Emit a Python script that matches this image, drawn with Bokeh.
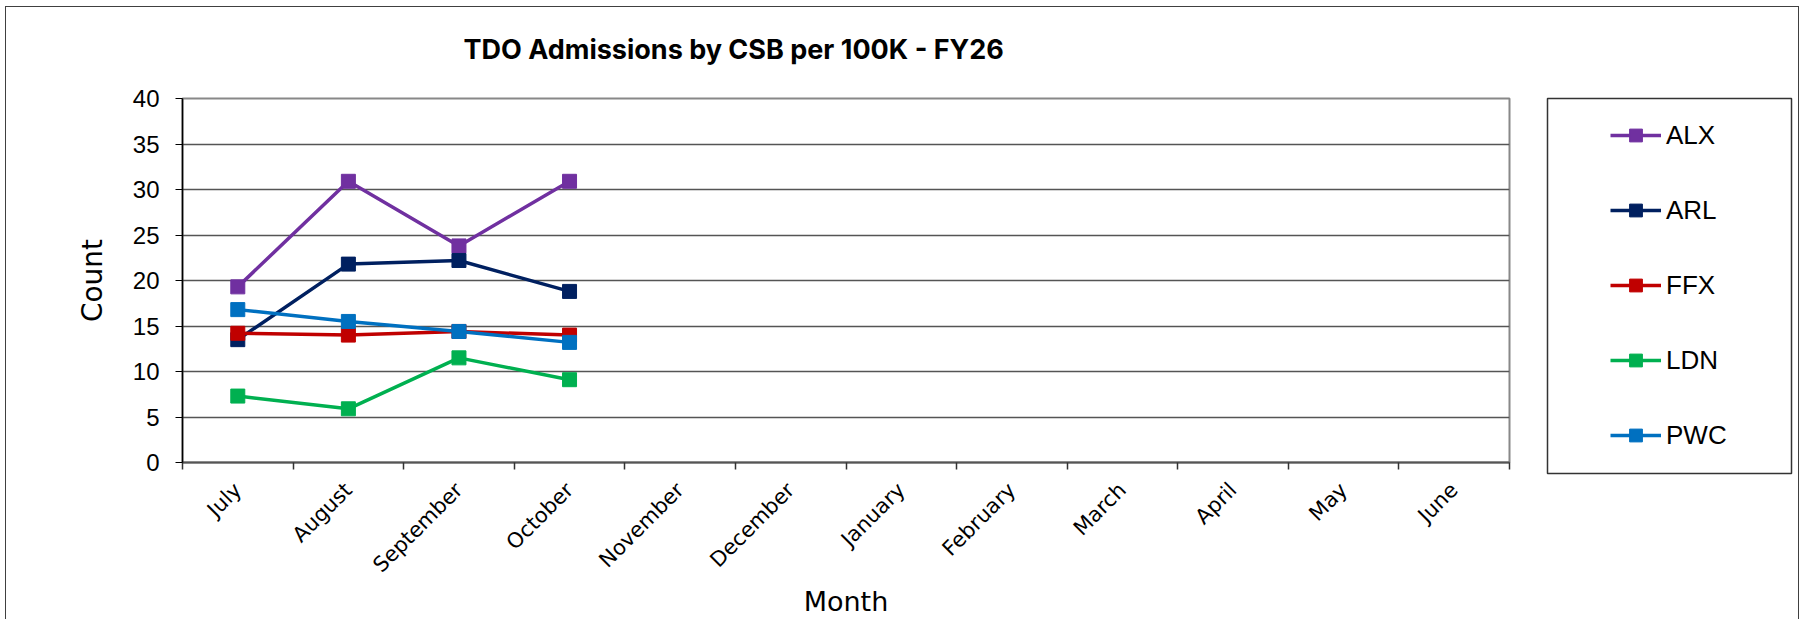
import math
from bokeh.plotting import figure
from bokeh.layouts import row
from bokeh.models import FixedTicker, Legend, LegendItem, Range1d, Title
from bokeh.embed import file_html
from bokeh.resources import INLINE

# ---- data ----
months = ["July", "August", "September", "October", "November", "December",
          "January", "February", "March", "April", "May", "June"]
series_names = ["ALX", "ARL", "FFX", "LDN", "PWC"]
alx = [19.3, 30.9, 23.8, 30.9]
arl = [13.5, 21.8, 22.2, 18.8]
ffx = [14.2, 14.0, 14.4, 14.0]
ldn = [7.3, 5.9, 11.5, 9.1]
pwc = [16.8, 15.5, 14.4, 13.2]
y_ticks = [0, 5, 10, 15, 20, 25, 30, 35, 40]
colors = ["#7030A0", "#002060", "#C00000", "#00B050", "#0070C0"]
title_text = "TDO Admissions by CSB per 100K - FY26"

series = [alx, arl, ffx, ldn, pwc]

H = 612
WM = 1524
WL = 268

p = figure(width=WM, height=H, output_backend="svg", toolbar_location=None,
           x_range=Range1d(0, len(months)), y_range=Range1d(0, 40),
           min_border_left=176, min_border_right=WM - 1503,
           min_border_top=91, min_border_bottom=H - 455)
p.title.text = ""

# spacer title (closest to the frame) then the real title above it
p.add_layout(Title(text=" ", text_font_size="10px", standoff=20), "above")
p.add_layout(Title(text=title_text, text_font="Inter", text_font_size="27px",
                   text_font_style="bold", text_color="#000000",
                   align="left", offset=281, standoff=0), "above")

centers = [i + 0.5 for i in range(len(months))]
bounds = [i for i in range(len(months) + 1)]

for name, vals, col in zip(series_names, series, colors):
    xs = centers[:len(vals)]
    p.line(xs, vals, line_color=col, line_width=3.5)
    p.scatter(xs, vals, marker="square", size=14, fill_color=col, line_color=col)

# x axis
xa = p.xaxis[0]
xa.ticker = FixedTicker(ticks=centers, minor_ticks=bounds)
xa.major_label_overrides = {c: m for c, m in zip(centers, months)}
xa.major_tick_line_color = None
xa.minor_tick_in = 0
xa.minor_tick_out = 7
xa.minor_tick_line_color = "#333333"
xa.minor_tick_line_width = 1.5
xa.axis_line_color = "#555555"
xa.axis_line_width = 2
xa.major_label_orientation = math.pi / 4
xa.major_label_text_font = "DejaVu Sans"
xa.major_label_text_font_size = "21px"
xa.major_label_text_color = "#000000"
xa.major_label_standoff = 17
xa.axis_label = "Month"
xa.axis_label_text_font = "DejaVu Sans"
xa.axis_label_text_font_size = "27px"
xa.axis_label_text_font_style = "normal"
xa.axis_label_text_color = "#000000"
xa.axis_label_standoff = -3

# y axis
ya = p.yaxis[0]
ya.ticker = FixedTicker(ticks=y_ticks)
ya.minor_tick_line_color = None
ya.major_tick_in = 0
ya.major_tick_out = 7
ya.major_tick_line_color = "#000000"
ya.axis_line_color = "#000000"
ya.axis_line_width = 1.5
ya.major_label_text_font = "Liberation Sans"
ya.major_label_text_font_size = "24px"
ya.major_label_text_color = "#000000"
ya.major_label_standoff = 16
ya.axis_label = "Count"
ya.axis_label_text_font = "DejaVu Sans"
ya.axis_label_text_font_size = "28px"
ya.axis_label_text_font_style = "normal"
ya.axis_label_text_color = "#000000"
ya.axis_label_standoff = 21

p.xgrid.grid_line_color = None
p.ygrid.grid_line_color = "#555555"
p.ygrid.grid_line_width = 1.5
p.outline_line_color = "#888888"
p.outline_line_width = 2
p.background_fill_color = "white"
p.border_fill_color = "white"

# ---- legend panel: a second figure whose frame is the legend box ----
HL = H + 11
q = figure(width=WL, height=HL, output_backend="svg", toolbar_location=None,
           x_range=Range1d(100, 101), y_range=Range1d(100, 101),
           x_axis_type=None, y_axis_type=None,
           min_border_left=17, min_border_right=WL - 261,
           min_border_top=91, min_border_bottom=H - 455)
q.styles = {"margin-bottom": "-11px"}
q.xgrid.grid_line_color = None
q.ygrid.grid_line_color = None
q.outline_line_color = "#333333"
q.outline_line_width = 1.5
q.background_fill_color = "white"
q.border_fill_color = "white"

items = []
for name, vals, col in zip(series_names, series, colors):
    xs = centers[:len(vals)]
    r1 = q.line(xs, vals, line_color=col, line_width=3.5)
    r2 = q.scatter(xs, vals, marker="square", size=14, fill_color=col, line_color=col)
    items.append(LegendItem(label=name, renderers=[r1, r2]))

legend = Legend(items=items, location=(63, 22),
                padding=0, spacing=43, glyph_width=51, glyph_height=32,
                label_height=32, label_standoff=5,
                label_text_font="Liberation Sans", label_text_font_size="26px",
                label_text_color="#000000",
                border_line_alpha=0, background_fill_alpha=0)
q.add_layout(legend)

layout = row(p, q, styles={"margin-left": "5px", "margin-top": "6px",
                           "border-left": "1px solid #404040",
                           "border-top": "1px solid #404040",
                           "border-right": "1px solid #404040"})

open("out.html", "w").write(file_html(layout, INLINE))
